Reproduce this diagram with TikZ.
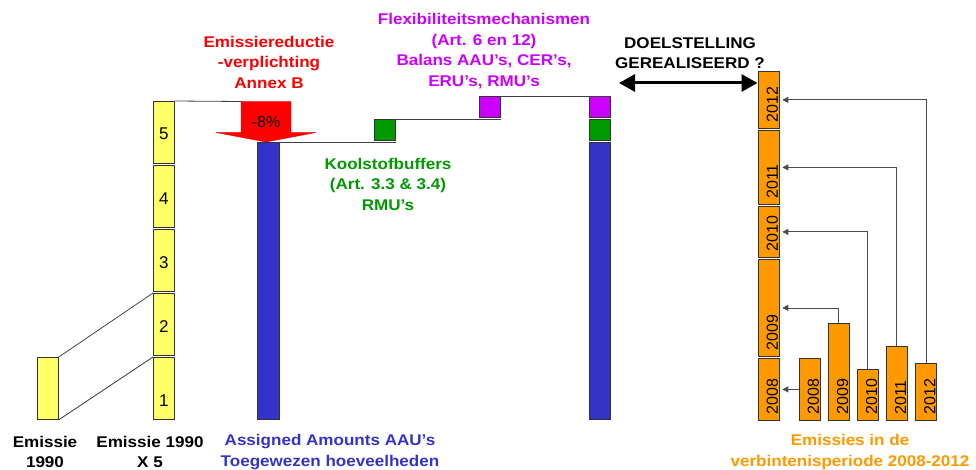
\documentclass[tikz,border=0pt]{standalone}
\usepackage{fontspec}
\setmainfont{Liberation Sans}
\newfontfamily\lblfont{Liberation Sans}[FakeStretch=1.1]
\usepackage{tikz}
\usetikzlibrary{calc}
\usetikzlibrary{arrows.meta}

\definecolor{ygeel}{HTML}{FFFF66}
\definecolor{ablauw}{HTML}{3333CC}
\definecolor{kgroen}{HTML}{009900}
\definecolor{fpaars}{HTML}{CC00FF}
\definecolor{eoranje}{HTML}{FF9900}
\definecolor{rrood}{HTML}{FF0000}

\begin{document}
\begin{tikzpicture}[x=1pt,y=-1pt,
		bar/.style={rectangle,draw=black!80,line width=0.8pt,inner sep=0pt,anchor=north west,minimum width=21pt},
		lbl/.style={align=center,inner sep=0pt,font=\lblfont\bfseries\fontsize{15.5}{20.5}\selectfont},
		num/.style={inner sep=0pt,font=\fontsize{17}{17}\selectfont},
		yr/.style={rotate=90,anchor=base west,inner sep=0pt,font=\fontsize{16}{16}\selectfont},
		link/.style={draw=black!70,line width=0.8pt,-{Triangle[length=6pt,width=6pt]},shorten >=3pt}]
		
		\useasboundingbox (0,0) rectangle (976,470);
		
		% emissie 1990 en vijf keer
		\node[bar,fill=ygeel,minimum height=62pt] (em90) at (37,357) {};
		\foreach \i/\dy in {1/12.5,2/2.5,3/2.5,4/2.5,5/1}{
			\node[bar,fill=ygeel,minimum height=62pt] (e\i) at (153,{357-(\i-1)*64}) {};
			\node[num] (n\i) at ($(e\i.center)+(0,\dy)$) {\i};
		}
		\draw[black!80,line width=0.7pt] (em90.north east) -- (e2.north west);
		\draw[black!80,line width=0.7pt] (em90.south east) -- (e1.north west);
		
		% reductie
		\coordinate (pijlL) at (241,101.5);
		\draw[black!75,line width=0.8pt] (e5.north east) -- (pijlL);
		\filldraw[fill=rrood,draw=rrood!85!black,line width=0.4pt] (pijlL) -- (291,101.5) -- (291,132.5) -- (316,132.5)
			-- (266,142) -- (216,132.5) -- (241,132.5) -- cycle;
		\node[inner sep=0pt,font=\fontsize{16}{16}\selectfont] (min8) at (266,122) {-8\%};
		
		\node[bar,fill=ablauw,minimum height=277pt,minimum width=22pt] (aau) at (257,142) {};
		\node[bar,fill=kgroen,minimum height=21.5pt] (kool1) at (374,119) {};
		\node[bar,fill=fpaars,minimum height=21pt] (flex1) at (479,96) {};
		
		\node[bar,fill=fpaars,minimum height=21pt] (flex2) at (589,96) {};
		\node[bar,fill=kgroen,minimum height=21.5pt] (kool2) at (589,119) {};
		\node[bar,fill=ablauw,minimum height=277pt] (aau2) at (589,142) {};
		
		\draw[black!75,line width=0.8pt] (aau.north east) -- (aau.north east -| kool1.east);
		\draw[black!75,line width=0.8pt] (kool1.north east) -- (kool1.north east -| flex1.east);
		\draw[black!75,line width=0.8pt] (flex1.north east) -- (flex1.north east -| flex2.east);
		
		% verbintenisperiode
		\foreach \j/\top/\h in {2008/358/62,2009/259/97,2010/206/51,2011/130/74,2012/71/57}{
			\node[bar,fill=eoranje,minimum height=\h pt] (o\j) at (757.5,\top) {};
			\node[yr] at ($(o\j.south east)+(-1.5,-6)$) {\j};
		}
		\foreach \j/\x/\h in {2008/798.5/62,2009/827.7/97,2010/856.7/51,2011/885.8/74,2012/915/57}{
			\node[bar,fill=eoranje,minimum height=\h pt] (s\j) at (\x,{420-\h}) {};
			\node[yr] at ($(s\j.south east)+(-1.5,-6)$) {\j};
		}
		\draw[link] (s2008.west) -- (o2008.east);
		\foreach \j in {2009,2010,2011,2012}
			\draw[link] (s\j.north) |- (o\j.east);
		
		\coordinate (doelL) at (619,83);
		\draw[line width=3pt,{Triangle[length=16pt,width=17pt]}-{Triangle[length=16pt,width=17pt]}] (doelL) -- (doelL -| o2012.west);
		
		% teksten
		\node[lbl,text=rrood] (lbRed) at (269,62) {Emissiereductie\\-verplichting\\Annex B};
		\node[lbl,text=fpaars] (lbFlex) at (484,51) {Flexibiliteitsmechanismen\\(Art. 6 en 12)\\Balans AAU’s, CER’s,\\ERU’s, RMU’s};
		\node[lbl,text=kgroen] (lbKool) at (388,184) {Koolstofbuffers\\(Art. 3.3 \& 3.4)\\RMU’s};
		\node[lbl] (lbDoel) at (690,53) {DOELSTELLING\\GEREALISEERD ?};
		
		\node[lbl] (lbEm) at (45,452) {Emissie\\1990};
		\node[lbl] (lbEm5) at (150,452) {Emissie 1990\\X 5};
		\node[lbl,text=ablauw] (lbAAU) at (330,452) {Assigned Amounts AAU’s\\Toegewezen hoeveelheden};
		\node[lbl,text=eoranje] (lbPer) at (850,452) {Emissies in de\\verbintenisperiode 2008-2012};
		\end{tikzpicture}
\end{document}
